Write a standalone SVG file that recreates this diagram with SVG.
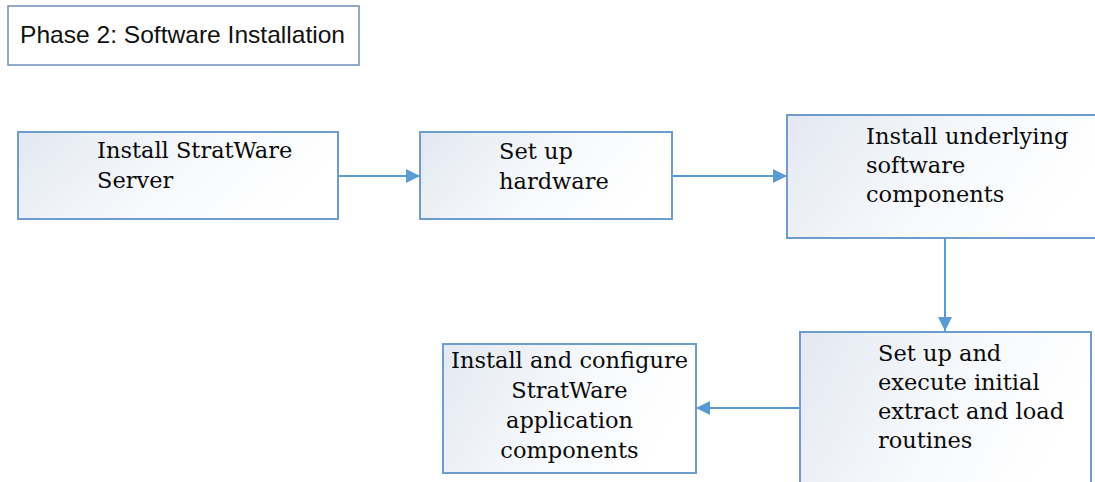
<svg xmlns="http://www.w3.org/2000/svg" width="1095" height="482" viewBox="0 0 1095 482">
<style>
.box{stroke:#6f9ccf;stroke-width:2;fill:url(#g)}
.title{fill:#fff;stroke:#6f8fb8;stroke-width:1.5}
.t{font-family:"DejaVu Serif","Liberation Serif",serif;font-size:22.5px;fill:#0a0a0a}
.ts{font-family:"Liberation Sans",Arial,sans-serif;font-size:24px;fill:#111}
.c{stroke:#5b9bd5;stroke-width:2;fill:none}
</style>
<defs>
<linearGradient id="g" x1="0" y1="0" x2="1" y2="0.3">
<stop offset="0" stop-color="#e3e8f1"/>
<stop offset="0.6" stop-color="#f7f9fc"/>
<stop offset="1" stop-color="#ffffff"/>
</linearGradient>
<marker id="a" viewBox="0 0 10 10" refX="10" refY="5" markerWidth="14" markerHeight="14" markerUnits="userSpaceOnUse" orient="auto">
<path d="M0,0 L10,5 L0,10 Z" fill="#5b9bd5"/>
</marker>
</defs>
<g id="title">
<rect class="title" x="8" y="6" width="351" height="59"/>
<text class="ts" x="20" y="43" textLength="325" lengthAdjust="spacingAndGlyphs">Phase 2: Software Installation</text>
</g>
<g id="connectors">
<line class="c" x1="338" y1="176" x2="420" y2="176" marker-end="url(#a)"/>
<line class="c" x1="672" y1="176" x2="787" y2="176" marker-end="url(#a)"/>
<line class="c" x1="945" y1="238" x2="945" y2="331" marker-end="url(#a)"/>
<line class="c" x1="800" y1="408" x2="696" y2="408" marker-end="url(#a)"/>
</g>
<g id="n1">
<rect class="box" x="18" y="132" width="320" height="87"/>
<text class="t" x="97" y="158">Install StratWare</text>
<text class="t" x="97" y="188">Server</text>
</g>
<g id="n2">
<rect class="box" x="420" y="132" width="252" height="87"/>
<text class="t" x="499" y="159">Set up</text>
<text class="t" x="499" y="189">hardware</text>
</g>
<g id="n3">
<rect class="box" x="787" y="115" width="320" height="123"/>
<text class="t" x="866" y="144">Install underlying</text>
<text class="t" x="866" y="173">software</text>
<text class="t" x="866" y="202">components</text>
</g>
<g id="n4">
<rect class="box" x="800" y="332" width="291" height="160"/>
<text class="t" x="878" y="361">Set up and</text>
<text class="t" x="878" y="390">execute initial</text>
<text class="t" x="878" y="419">extract and load</text>
<text class="t" x="878" y="448">routines</text>
</g>
<g id="n5">
<rect class="box" x="443" y="344" width="253" height="129"/>
<text class="t" x="569.5" y="368" text-anchor="middle">Install and configure</text>
<text class="t" x="569.5" y="398" text-anchor="middle">StratWare</text>
<text class="t" x="569.5" y="428" text-anchor="middle">application</text>
<text class="t" x="569.5" y="458" text-anchor="middle">components</text>
</g>
</svg>
